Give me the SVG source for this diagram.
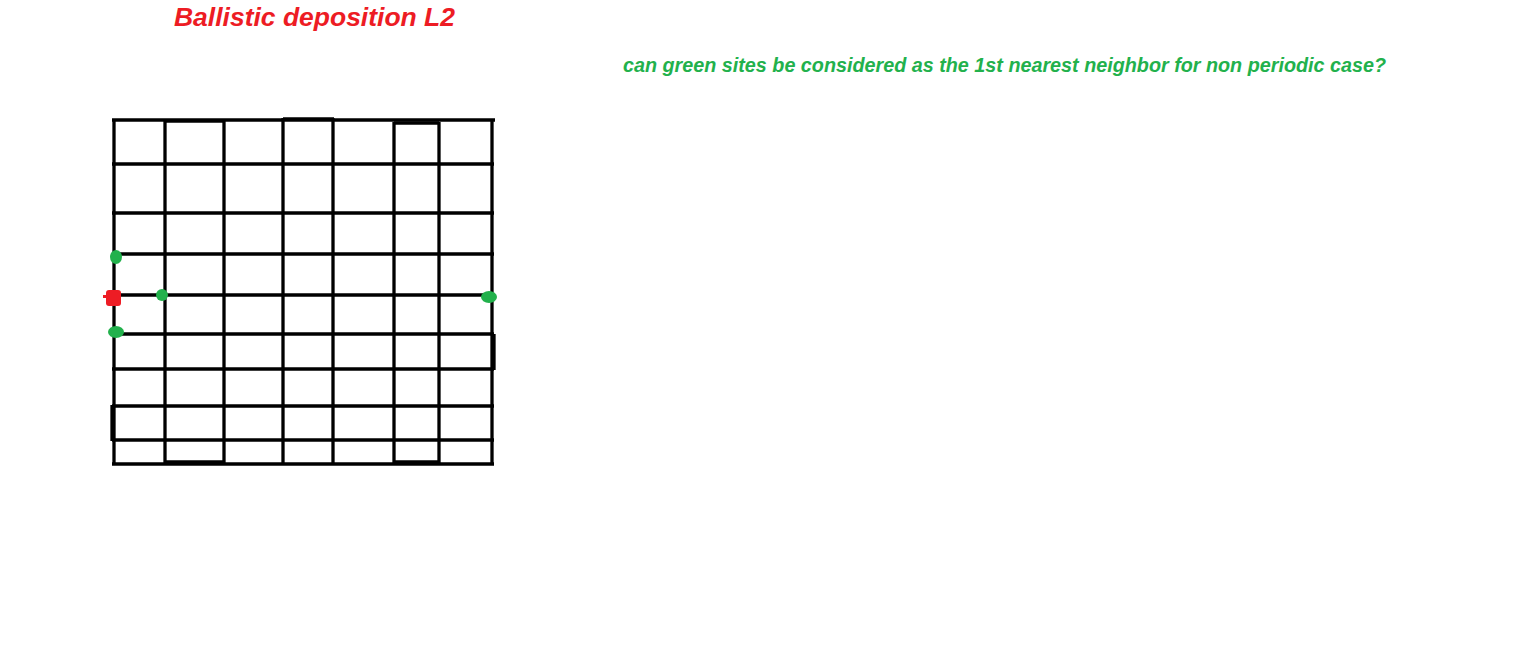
<svg xmlns="http://www.w3.org/2000/svg" width="1520" height="648" viewBox="0 0 1520 648">
<style>
.g line{stroke:#000;stroke-width:3.3}
.t1{font-family:"Liberation Sans",Arial,sans-serif;font-weight:bold;font-style:italic;font-size:26px;fill:#ed1c24}
.t2{font-family:"Liberation Sans",Arial,sans-serif;font-weight:bold;font-style:italic;font-size:20px;fill:#22b14c}
.gr{fill:#22b14c}
.rd{fill:#ed1c24}
</style>
<rect width="1520" height="648" fill="#fff"/>
<text class="t1" x="174" y="26" textLength="281" lengthAdjust="spacingAndGlyphs">Ballistic deposition L2</text>
<text class="t2" x="623" y="72" textLength="763" lengthAdjust="spacingAndGlyphs">can green sites be considered as the 1st nearest neighbor for non periodic case?</text>
<g id="grid" class="g">
<line x1="112" y1="120" x2="495" y2="120"/>
<line x1="112" y1="164" x2="494" y2="164"/>
<line x1="112" y1="213" x2="494" y2="213"/>
<line x1="112" y1="254" x2="494" y2="254"/>
<line x1="112" y1="295" x2="494" y2="295"/>
<line x1="112" y1="334" x2="494" y2="334"/>
<line x1="112" y1="369" x2="494" y2="369"/>
<line x1="112" y1="406" x2="494" y2="406"/>
<line x1="112" y1="440" x2="494" y2="440"/>
<line x1="112" y1="464" x2="494" y2="464"/>
<line x1="114" y1="119" x2="114" y2="465"/>
<line x1="165" y1="119" x2="165" y2="465"/>
<line x1="224" y1="119" x2="224" y2="465"/>
<line x1="283" y1="118" x2="283" y2="465"/>
<line x1="333" y1="118" x2="333" y2="465"/>
<line x1="394" y1="122" x2="394" y2="464"/>
<line x1="439" y1="122" x2="439" y2="464"/>
<line x1="492" y1="119" x2="492" y2="465"/>
<line x1="283" y1="119" x2="334" y2="119"/>
<line x1="394" y1="123" x2="439" y2="123"/>
<line x1="165" y1="121" x2="224" y2="121"/>
<line x1="165" y1="462" x2="224" y2="462"/>
<line x1="394" y1="462" x2="439" y2="462"/>
<line x1="494" y1="334" x2="494" y2="370"/>
<line x1="112" y1="405" x2="112" y2="441"/>
</g>
<g id="sites">
<ellipse class="gr" cx="116" cy="257" rx="6" ry="7"/>
<ellipse class="gr" cx="162" cy="295" rx="6" ry="6"/>
<ellipse class="gr" cx="116" cy="332" rx="8" ry="6"/>
<ellipse class="gr" cx="489" cy="297" rx="8" ry="6"/>
<rect class="rd" x="106" y="290" width="15" height="16" rx="3"/>
<rect class="rd" x="103" y="295" width="6" height="3"/>
</g>
</svg>
